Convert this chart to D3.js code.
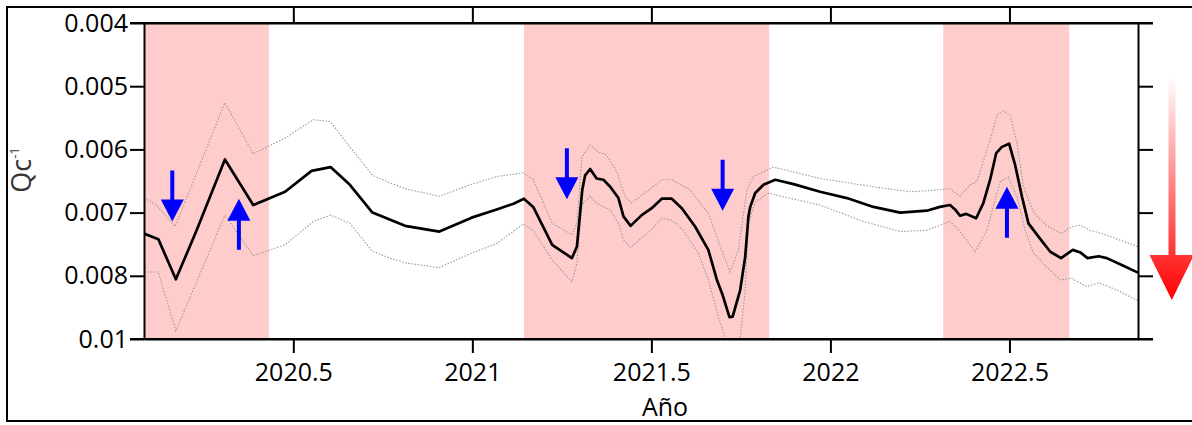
<!DOCTYPE html>
<html><head><meta charset="utf-8">
<script src="https://cdn.jsdelivr.net/npm/d3@7"></script>
<style>
body{margin:0;background:#fff;}
svg{display:block;font-family:'Open Sans',sans-serif;}
</style>
</head><body>
<svg id="chart" width="1192" height="425"></svg>
<script>
// ---------------- data ----------------
const yearTicks = [2020.5, 2021, 2021.5, 2022, 2022.5];
const yTickValues = [0.004, 0.005, 0.006, 0.007, 0.008, 0.01];
const yTickLabels = ["0.004", "0.005", "0.006", "0.007", "0.008", "0.01"];
const xDomain = [2020.083, 2022.859];
const shadedPeriods = [[2020.083, 2020.432], [2021.144, 2021.829], [2022.315, 2022.667]];

const mainTimes = [
  2020.083,2020.123,2020.172,2020.230,2020.309,2020.388,2020.477,2020.551,2020.604,2020.658,
  2020.721,2020.812,2020.908,2020.998,2021.068,2021.115,2021.144,2021.170,2021.223,2021.278,
  2021.292,2021.307,2021.315,2021.329,2021.347,2021.366,2021.385,2021.408,2021.422,2021.442,
  2021.473,2021.501,2021.529,2021.557,2021.585,2021.622,2021.659,2021.683,2021.699,2021.718,
  2021.727,2021.748,2021.762,2021.771,2021.776,2021.790,2021.813,2021.846,2021.897,2021.971,
  2022.046,2022.120,2022.195,2022.269,2022.306,2022.334,2022.348,2022.362,2022.379,2022.407,
  2022.427,2022.446,2022.463,2022.479,2022.499,2022.516,2022.535,2022.553,2022.581,2022.614,
  2022.644,2022.677,2022.698,2022.718,2022.749,2022.772,2022.818,2022.859];
const mainValues = [
  0.00733,0.00742,0.00811,0.00728,0.00616,0.00688,0.00667,0.00634,0.00628,0.00656,
  0.00700,0.00721,0.00730,0.00708,0.00695,0.00686,0.00678,0.00691,0.00751,0.00772,
  0.00754,0.00664,0.00641,0.00631,0.00646,0.00648,0.00659,0.00677,0.00706,0.00721,
  0.00704,0.00693,0.00678,0.00678,0.00693,0.00722,0.00759,0.00813,0.00861,0.00931,
  0.00929,0.00845,0.00770,0.00706,0.00691,0.00669,0.00656,0.00648,0.00655,0.00667,
  0.00677,0.00691,0.00700,0.00697,0.00691,0.00688,0.00695,0.00705,0.00702,0.00709,
  0.00685,0.00648,0.00606,0.00596,0.00591,0.00625,0.00675,0.00717,0.00738,0.00762,
  0.00772,0.00759,0.00763,0.00772,0.00769,0.00772,0.00784,0.00795];

const upperTimes = [
  2020.083,2020.118,2020.170,2020.309,2020.388,2020.477,2020.556,2020.603,2020.658,2020.721,
  2020.770,2020.817,2020.908,2020.994,2021.068,2021.142,2021.170,2021.223,2021.278,2021.292,
  2021.306,2021.329,2021.352,2021.375,2021.403,2021.427,2021.445,2021.498,2021.529,2021.557,
  2021.608,2021.659,2021.696,2021.720,2021.743,2021.767,2021.785,2021.841,2021.971,2022.120,
  2022.223,2022.279,2022.334,2022.362,2022.390,2022.409,2022.446,2022.465,2022.483,2022.502,
  2022.521,2022.539,2022.567,2022.604,2022.646,2022.674,2022.698,2022.725,2022.763,2022.859];
const upperValues = [
  0.00677,0.00688,0.00722,0.00526,0.00607,0.00582,0.00553,0.00556,0.00596,0.00641,
  0.00653,0.00663,0.00674,0.00656,0.00643,0.00637,0.00648,0.00717,0.00735,0.00717,
  0.00612,0.00593,0.00604,0.00609,0.00635,0.00675,0.00685,0.00662,0.00648,0.00648,
  0.00664,0.00701,0.00759,0.00794,0.00759,0.00664,0.00643,0.00628,0.00646,0.00659,
  0.00667,0.00665,0.00662,0.00674,0.00656,0.00651,0.00585,0.00546,0.00539,0.00546,
  0.00590,0.00659,0.00699,0.00721,0.00733,0.00722,0.00720,0.00728,0.00734,0.00754];

const lowerTimes = [
  2020.083,2020.123,2020.172,2020.309,2020.388,2020.477,2020.556,2020.604,2020.658,2020.721,
  2020.770,2020.817,2020.908,2020.998,2021.068,2021.142,2021.170,2021.223,2021.278,2021.292,
  2021.306,2021.329,2021.347,2021.385,2021.408,2021.422,2021.442,2021.498,2021.529,2021.557,
  2021.589,2021.631,2021.659,2021.687,2021.723,2021.748,2021.762,2021.771,2021.790,2021.827,
  2021.869,2021.971,2022.092,2022.195,2022.269,2022.334,2022.362,2022.404,2022.437,2022.474,
  2022.497,2022.521,2022.544,2022.567,2022.604,2022.642,2022.674,2022.716,2022.749,2022.800,2022.859];
const lowerValues = [
  0.00794,0.00794,0.00974,0.00704,0.00768,0.00751,0.00714,0.00704,0.00717,0.00761,
  0.00772,0.00780,0.00787,0.00764,0.00749,0.00718,0.00728,0.00775,0.00819,0.00780,
  0.00688,0.00674,0.00685,0.00696,0.00717,0.00743,0.00755,0.00728,0.00709,0.00712,
  0.00728,0.00764,0.00813,0.00929,0.01050,0.00998,0.00845,0.00717,0.00683,0.00669,
  0.00675,0.00688,0.00714,0.00730,0.00728,0.00714,0.00730,0.00762,0.00728,0.00651,
  0.00644,0.00675,0.00728,0.00764,0.00786,0.00813,0.00808,0.00834,0.00822,0.00845,0.00879];

// blue arrows: time, value at the tip, direction
const arrowTimes = [2020.162, 2020.348, 2021.264, 2021.699, 2022.493];
const arrowTipValues = [0.00714, 0.00678, 0.00679, 0.00697, 0.00659];
const arrowDirections = ["down", "up", "down", "down", "up"];

// ---------------- layout ----------------
const W = 1192, H = 425;
const plot = {left: 144, right: 1138, top: 23, bottom: 339};
const svg = d3.select("#chart");

const x = d3.scaleLinear().domain(xDomain).range([plot.left, plot.right]);
const yStep = (plot.bottom - plot.top) / (yTickValues.length - 1);
const y = d3.scaleLinear().domain(yTickValues)
  .range(yTickValues.map((d, i) => plot.top + i * yStep));

const defs = svg.append("defs");
defs.append("clipPath").attr("id", "clip").append("rect")
  .attr("x", plot.left).attr("y", plot.top)
  .attr("width", plot.right - plot.left).attr("height", plot.bottom - plot.top);
const grad = defs.append("linearGradient").attr("id", "redgrad")
  .attr("gradientUnits", "userSpaceOnUse")
  .attr("x1", 0).attr("y1", 77).attr("x2", 0).attr("y2", 300);
grad.append("stop").attr("offset", 0).attr("stop-color", "#ffffff");
grad.append("stop").attr("offset", 1).attr("stop-color", "#ff0000");

// outer frame
svg.append("rect").attr("x", 7).attr("y", 7).attr("width", W + 20).attr("height", 414)
  .attr("fill", "none").attr("stroke", "#000").attr("stroke-width", 2);

// shaded periods
const g = svg.append("g").attr("clip-path", "url(#clip)");
g.selectAll("rect.shade").data(shadedPeriods).join("rect")
  .attr("class", "shade")
  .attr("x", d => x(d[0])).attr("width", d => x(d[1]) - x(d[0]))
  .attr("y", plot.top).attr("height", plot.bottom - plot.top)
  .attr("fill", "#ffcccc");

// bands
const line = d3.line().x(d => x(d[0])).y(d => y(d[1]));
const upper = upperTimes.map((t, i) => [t, upperValues[i]]);
const lower = lowerTimes.map((t, i) => [t, lowerValues[i]]);
const main = mainTimes.map((t, i) => [t, mainValues[i]]);
[upper, lower].forEach(b => {
  g.append("path").attr("d", line(b)).attr("fill", "none")
    .attr("stroke", "#9a9a9a").attr("stroke-width", 1.1)
    .attr("stroke-dasharray", "1.5,1.6");
});
g.append("path").attr("d", line(main)).attr("fill", "none")
  .attr("stroke", "#000").attr("stroke-width", 2.7)
  .attr("stroke-linejoin", "round");

// blue arrows
const arrowLen = 51, headLen = 22, headHalf = 11.5, shaftHalf = 2;
arrowTimes.forEach((t, i) => {
  const ax = x(t), ay = y(arrowTipValues[i]);
  const s = arrowDirections[i] === "down" ? -1 : 1; // direction from tip toward tail
  const p = d3.path();
  p.moveTo(ax, ay);
  p.lineTo(ax + headHalf, ay + s * headLen);
  p.lineTo(ax + shaftHalf, ay + s * headLen);
  p.lineTo(ax + shaftHalf, ay + s * arrowLen);
  p.lineTo(ax - shaftHalf, ay + s * arrowLen);
  p.lineTo(ax - shaftHalf, ay + s * headLen);
  p.lineTo(ax - headHalf, ay + s * headLen);
  p.closePath();
  svg.append("path").attr("d", p.toString()).attr("fill", "#0000ff");
});

// axes
function styleAxis(sel) {
  sel.selectAll("path.domain").attr("stroke", "#000").attr("stroke-width", 2);
  sel.selectAll(".tick line").attr("stroke", "#000").attr("stroke-width", 2);
  sel.selectAll("text").attr("fill", "#000").style("font-size", "25px")
    .style("font-family", "'Open Sans',sans-serif");
}
const xb = svg.append("g").attr("transform", `translate(0,${plot.bottom})`)
  .call(d3.axisBottom(x).tickValues(yearTicks).tickSize(14).tickSizeOuter(0)
    .tickPadding(10).tickFormat(d => String(d)));
styleAxis(xb);
const xt = svg.append("g").attr("transform", `translate(0,${plot.top})`)
  .call(d3.axisTop(x).tickValues(yearTicks).tickSize(16).tickSizeOuter(0).tickFormat(""));
styleAxis(xt);
const yl = svg.append("g").attr("transform", `translate(${plot.left},0)`)
  .call(d3.axisLeft(y).tickValues(yTickValues).tickSize(14).tickSizeOuter(0)
    .tickPadding(2).tickFormat((d, i) => yTickLabels[i]));
styleAxis(yl);
const yr = svg.append("g").attr("transform", `translate(${plot.right},0)`)
  .call(d3.axisRight(y).tickValues(yTickValues).tickSize(15).tickSizeOuter(0).tickFormat(""));
styleAxis(yr);
// extend top and bottom axis lines to the right ticks
[plot.top, plot.bottom].forEach(yy => {
  svg.append("line").attr("x1", plot.left - 14).attr("x2", plot.right + 15)
    .attr("y1", yy).attr("y2", yy).attr("stroke", "#000").attr("stroke-width", 2);
});

// axis titles
svg.append("text").attr("x", 665).attr("y", 415.5).attr("text-anchor", "middle")
  .style("font-size", "25px").attr("fill", "#000").text("Año");
const yt = svg.append("text").attr("transform", "translate(31,170) rotate(-90)")
  .attr("text-anchor", "middle").style("font-size", "27px").attr("fill", "#333");
yt.append("tspan").text("Qc");
yt.append("tspan").attr("dy", -12).style("font-size", "13px").text("-1");

// red gradient arrow
const ra = d3.path();
ra.moveTo(1168.5, 77); ra.lineTo(1175.5, 77); ra.lineTo(1175.5, 255);
ra.lineTo(1194, 255); ra.lineTo(1171.8, 300); ra.lineTo(1149.5, 255);
ra.lineTo(1168.5, 255); ra.closePath();
svg.append("path").attr("d", ra.toString()).attr("fill", "url(#redgrad)");
</script>
</body></html>
